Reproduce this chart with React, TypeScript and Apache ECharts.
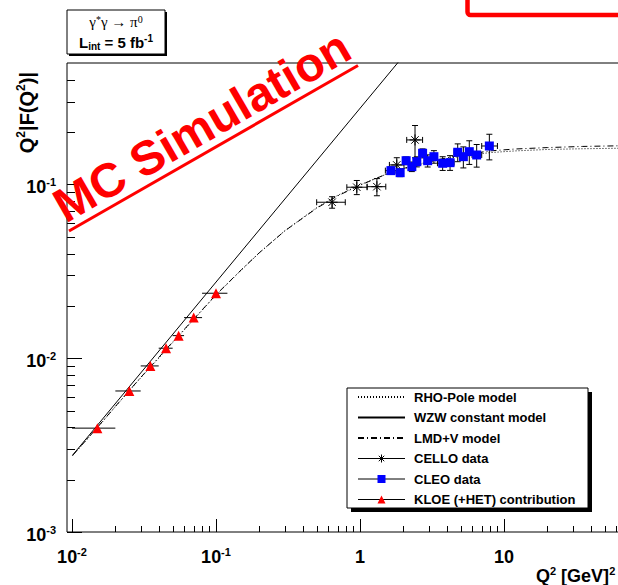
import React, { useEffect, useRef } from "react";
import * as echarts from "echarts";

const SANS = '"Liberation Sans", Arial, Helvetica, sans-serif';
const SERIF = '"Liberation Serif", "DejaVu Serif", serif';

// axis ranges
const X_MIN = 0.00923;
const X_MAX = 92.3;
const Y_MIN = 0.001;
const Y_MAX = 0.5;

// tick marks
const xMajorTicks = [0.01, 0.1, 1, 10];
const yMajorTicks = [0.001, 0.01, 0.1];
const minorSteps = [2, 3, 4, 5, 6, 7, 8, 9];
const xDecades = [-2, -1, 0, 1];
const yDecades = [-3, -2, -1];

// model curves
const modelQ2 = [0.0101, 0.015, 0.02, 0.03, 0.04, 0.05, 0.07, 0.1, 0.15, 0.2, 0.3, 0.5, 0.7, 1.0, 1.5, 2.0, 3.0, 5.0, 8.0, 12, 20, 35, 60, 92];
const lmdvValues = [0.00276, 0.004, 0.00528, 0.00775, 0.0101, 0.0124, 0.0168, 0.0232, 0.0323, 0.0405, 0.054, 0.073, 0.086, 0.099, 0.114, 0.1235, 0.1355, 0.1475, 0.156, 0.16, 0.163, 0.1655, 0.1668, 0.1675];
const rhoPoleValues = [0.00275, 0.00398, 0.00526, 0.00772, 0.01, 0.0123, 0.0167, 0.0231, 0.0322, 0.0404, 0.0541, 0.0735, 0.0866, 0.0995, 0.114, 0.123, 0.1345, 0.1455, 0.1525, 0.156, 0.159, 0.1605, 0.1615, 0.162];
const wzwQ2 = [0.0101, 1.9];
const wzwValues = [0.00277, 0.521];

// CELLO data
const celloQ2 = [0.64, 0.95, 1.31, 1.8, 2.41];
const celloQ2Lo = [0.5, 0.81, 1.12, 1.6, 2.11];
const celloQ2Hi = [0.79, 1.12, 1.51, 2.02, 2.72];
const celloValues = [0.079, 0.0964, 0.0971, 0.1295, 0.1804];
const celloErrors = [0.006, 0.009, 0.011, 0.013, 0.038];

// CLEO data
const cleoQ2 = [1.64, 1.9, 2.09, 2.29, 2.48, 2.72, 2.95, 3.26, 3.75, 4.22, 4.77, 5.22, 5.74, 6.46, 7.91];
const cleoQ2Lo = [1.5, 1.8, 2.0, 2.2, 2.4, 2.6, 2.85, 3.1, 3.45, 4.0, 4.5, 5.0, 5.5, 6.0, 7.0];
const cleoQ2Hi = [1.8, 2.0, 2.2, 2.4, 2.6, 2.85, 3.1, 3.45, 4.0, 4.5, 5.0, 5.5, 6.0, 7.0, 9.0];
const cleoValues = [0.1201, 0.1169, 0.137, 0.1266, 0.1352, 0.1512, 0.137, 0.1445, 0.1324, 0.1335, 0.1532, 0.1445, 0.1544, 0.1478, 0.1665];
const cleoErrors = [0.006, 0.006, 0.007, 0.008, 0.009, 0.009, 0.011, 0.012, 0.012, 0.013, 0.018, 0.02, 0.024, 0.022, 0.028];

// KLOE (+HET) projection
const kloeQ2 = [0.015, 0.025, 0.035, 0.045, 0.055, 0.07, 0.1];
const kloeQ2Lo = [0.01, 0.02, 0.03, 0.04, 0.05, 0.06, 0.08];
const kloeQ2Hi = [0.02, 0.03, 0.04, 0.05, 0.06, 0.08, 0.12];
const kloeValues = [0.00396, 0.00648, 0.00903, 0.01142, 0.01349, 0.01713, 0.02366];
const kloeErrors = [0, 0, 0, 0, 0, 0, 0];

const legendNames = [
  "RHO-Pole model",
  "WZW constant model",
  "LMD+V model",
  "CELLO data",
  "CLEO data",
  "KLOE (+HET) contribution",
];

const STAR = "path://M5,0L5,10M0,5L10,5M1.6,1.6L8.4,8.4M8.4,1.6L1.6,8.4";

const zip = (xs: number[], ys: number[]) => xs.map((x, i) => [x, ys[i]]);

const errData = (x: number[], y: number[], lo: number[], hi: number[], e: number[]) =>
  x.map((v, i) => [v, y[i], lo[i], hi[i], y[i] - e[i], y[i] + e[i]]);

const makeErrRender = (xCap: number, yCap: number) => (_p: any, api: any) => {
  const x = api.value(0), y = api.value(1);
  const c = api.coord([x, y]);
  const l = api.coord([api.value(2), y]);
  const r = api.coord([api.value(3), y]);
  const st = { stroke: "#000", lineWidth: 1 };
  const ch: any[] = [
    { type: "line", shape: { x1: l[0], y1: c[1], x2: r[0], y2: c[1] }, style: st },
  ];
  if (xCap > 0) {
    ch.push({ type: "line", shape: { x1: l[0], y1: c[1] - xCap, x2: l[0], y2: c[1] + xCap }, style: st });
    ch.push({ type: "line", shape: { x1: r[0], y1: c[1] - xCap, x2: r[0], y2: c[1] + xCap }, style: st });
  }
  const ylo = api.value(4), yhi = api.value(5);
  if (yhi > ylo) {
    const b = api.coord([x, ylo]);
    const t = api.coord([x, yhi]);
    ch.push({ type: "line", shape: { x1: c[0], y1: b[1], x2: c[0], y2: t[1] }, style: st });
    if (yCap > 0) {
      ch.push({ type: "line", shape: { x1: c[0] - yCap, y1: b[1], x2: c[0] + yCap, y2: b[1] }, style: st });
      ch.push({ type: "line", shape: { x1: c[0] - yCap, y1: t[1], x2: c[0] + yCap, y2: t[1] }, style: st });
    }
  }
  return { type: "group", children: ch };
};

const xMinorTicks: number[] = [];
xDecades.forEach((d) =>
  minorSteps.forEach((m) => {
    const v = m * Math.pow(10, d);
    if (v > X_MIN && v < X_MAX) xMinorTicks.push(v);
  })
);
const yMinorTicks: number[] = [];
yDecades.forEach((d) =>
  minorSteps.forEach((m) => {
    const v = m * Math.pow(10, d);
    if (v > Y_MIN && v < Y_MAX) yMinorTicks.push(v);
  })
);

const powLabel = (v: number) => {
  const e = Math.round(Math.log10(v));
  if (e === 0) return "{b|1}";
  if (e === 1) return "{b|10}";
  return "{b|10}{s|" + e + "}";
};

const tickRich = {
  b: { fontFamily: SANS, fontWeight: "bold", fontSize: 18, lineHeight: 22, color: "#000" },
  s: { fontFamily: SANS, fontWeight: "bold", fontSize: 11, lineHeight: 11, color: "#000", verticalAlign: "top" },
};

const dataLegendLine = { color: "#000", width: 1, opacity: 1, type: "solid" };

const option: any = {
  animation: false,
  backgroundColor: "#fff",
  grid: {
    left: 67,
    top: 63,
    width: 576,
    height: 469,
    show: true,
    borderColor: "#000",
    borderWidth: 1,
    backgroundColor: "transparent",
    containLabel: false,
    outerBoundsMode: "none",
  },
  xAxis: {
    type: "log",
    logBase: 10,
    min: X_MIN,
    max: X_MAX,
    axisLine: { show: false },
    axisTick: { show: false },
    splitLine: { show: false },
    axisLabel: {
      showMinLabel: false,
      showMaxLabel: false,
      margin: 14,
      formatter: powLabel,
      rich: tickRich,
    },
  },
  yAxis: {
    type: "log",
    logBase: 10,
    min: Y_MIN,
    max: Y_MAX,
    axisLine: { show: false },
    axisTick: { show: false },
    splitLine: { show: false },
    axisLabel: {
      showMinLabel: true,
      showMaxLabel: false,
      margin: 11,
      padding: [6, 0, 0, 0],
      formatter: powLabel,
      rich: tickRich,
    },
  },
  legend: {
    orient: "vertical",
    left: 357,
    top: 390,
    padding: 0,
    itemWidth: 47,
    itemHeight: 10,
    itemGap: 6.5,
    selectedMode: false,
    textStyle: {
      color: "#000",
      fontFamily: SANS,
      fontWeight: "bold",
      fontSize: 13,
      lineHeight: 14,
      padding: [0, 0, 0, 4],
    },
    data: [
      { name: legendNames[0], itemStyle: { opacity: 0 } },
      { name: legendNames[1], itemStyle: { opacity: 0 } },
      { name: legendNames[2], itemStyle: { opacity: 0 } },
      { name: legendNames[3], lineStyle: dataLegendLine, itemStyle: { borderWidth: 1, borderColor: "#000", color: "rgba(0,0,0,0)" } },
      { name: legendNames[4], lineStyle: dataLegendLine },
      { name: legendNames[5], lineStyle: dataLegendLine },
    ],
  },
  graphic: [
    // top-left label box
    { type: "rect", z: 5, shape: { x: 69, y: 12, width: 98, height: 44 }, style: { fill: "#000" } },
    { type: "rect", z: 5, shape: { x: 67, y: 10, width: 98, height: 44 }, style: { fill: "#fff", stroke: "#000", lineWidth: 1 } },
    {
      type: "text", z: 6, x: 116, y: 22,
      style: {
        text: "γ{s|*}γ → π{s|0}",
        fontFamily: SERIF, fontSize: 15, fill: "#000", align: "center", verticalAlign: "middle",
        rich: { s: { fontFamily: SERIF, fontSize: 10, lineHeight: 10, verticalAlign: "top", fill: "#000" } },
      },
    },
    {
      type: "text", z: 6, x: 116, y: 42,
      style: {
        text: "L{sub|int} = 5 fb{s|-1}",
        fontFamily: SANS, fontWeight: "bold", fontSize: 15, lineHeight: 18, fill: "#000", align: "center", verticalAlign: "middle",
        rich: {
          sub: { fontFamily: SANS, fontWeight: "bold", fontSize: 10, lineHeight: 10, verticalAlign: "bottom", fill: "#000" },
          s: { fontFamily: SANS, fontWeight: "bold", fontSize: 10, lineHeight: 10, verticalAlign: "top", fill: "#000" },
        },
      },
    },
    // legend box
    { type: "rect", z: 3, shape: { x: 351, y: 392, width: 241, height: 120 }, style: { fill: "#000" } },
    { type: "rect", z: 3, shape: { x: 347, y: 388, width: 241, height: 120 }, style: { fill: "#fff", stroke: "#000", lineWidth: 1 } },
    // red box at top right
    { type: "rect", z: 6, shape: { x: 467.5, y: -30, width: 250, height: 45, r: 3 }, style: { fill: "none", stroke: "#ff0000", lineWidth: 4.5 } },
    // watermark
    {
      type: "text", z: 10, x: 57.6, y: 209.5, rotation: Math.PI / 6,
      style: { text: "MC Simulation", fontFamily: SANS, fontWeight: "bold", fontSize: 48, fill: "#ff0000", align: "left", verticalAlign: "middle" },
    },
    { type: "line", z: 10, shape: { x1: 69, y1: 231, x2: 358, y2: 65.5 }, style: { stroke: "#ff0000", lineWidth: 3 } },
    // axis titles
    {
      type: "text", z: 6, x: 27, y: 72, rotation: Math.PI / 2,
      style: {
        text: "Q{s|2}|F(Q{s|2})|",
        fontFamily: SANS, fontWeight: "bold", fontSize: 20, lineHeight: 24, fill: "#000", align: "right", verticalAlign: "middle",
        rich: { s: { fontFamily: SANS, fontWeight: "bold", fontSize: 12, lineHeight: 12, verticalAlign: "top", fill: "#000" } },
      },
    },
    {
      type: "text", z: 6, x: 536, y: 576,
      style: {
        text: "Q{s|2} [GeV]{s|2}",
        fontFamily: SANS, fontWeight: "bold", fontSize: 18, lineHeight: 22, fill: "#000", align: "left", verticalAlign: "middle",
        rich: { s: { fontFamily: SANS, fontWeight: "bold", fontSize: 11, lineHeight: 11, verticalAlign: "top", fill: "#000" } },
      },
    },
  ],
  series: [
    {
      name: legendNames[0], type: "line", z: 2, symbol: "none",
      data: zip(modelQ2, rhoPoleValues),
      lineStyle: { color: "#000", width: 1, type: [1, 2] },
    },
    {
      name: legendNames[1], type: "line", z: 2, symbol: "none",
      data: zip(wzwQ2, wzwValues),
      lineStyle: { color: "#000", width: 1, type: "solid" },
    },
    {
      name: legendNames[2], type: "line", z: 2, symbol: "none",
      data: zip(modelQ2, lmdvValues),
      lineStyle: { color: "#000", width: 1, type: [6, 3, 1, 3] },
    },
    {
      name: "CELLO errors", type: "custom", z: 3, silent: true,
      data: errData(celloQ2, celloValues, celloQ2Lo, celloQ2Hi, celloErrors),
      renderItem: makeErrRender(3, 3),
    },
    {
      name: "CLEO errors", type: "custom", z: 3, silent: true,
      data: errData(cleoQ2, cleoValues, cleoQ2Lo, cleoQ2Hi, cleoErrors),
      renderItem: makeErrRender(3, 3),
    },
    {
      name: "KLOE errors", type: "custom", z: 3, silent: true,
      data: errData(kloeQ2, kloeValues, kloeQ2Lo, kloeQ2Hi, kloeErrors),
      renderItem: makeErrRender(0, 0),
    },
    {
      name: legendNames[3], type: "line", z: 4, symbol: STAR, symbolSize: 11,
      data: zip(celloQ2, celloValues),
      lineStyle: { color: "#000", opacity: 0 },
      itemStyle: { color: "rgba(0,0,0,0)", borderColor: "#000", borderWidth: 1 },
    },
    {
      name: legendNames[4], type: "line", z: 4, symbol: "rect", symbolSize: 9,
      data: zip(cleoQ2, cleoValues),
      lineStyle: { color: "#0000ff", opacity: 0 },
      itemStyle: { color: "#0000ff" },
    },
    {
      name: legendNames[5], type: "line", z: 4, symbol: "triangle", symbolSize: 10,
      data: zip(kloeQ2, kloeValues),
      lineStyle: { color: "#ff0000", opacity: 0 },
      itemStyle: { color: "#ff0000" },
    },
    {
      name: "x ticks", type: "custom", z: 6, silent: true,
      data: [...xMajorTicks.map((v) => [v, Y_MIN, 13]), ...xMinorTicks.map((v) => [v, Y_MIN, 6])],
      renderItem: (_p: any, api: any) => {
        const c = api.coord([api.value(0), api.value(1)]);
        const x = Math.round(c[0]) + 0.5;
        return { type: "line", shape: { x1: x, y1: c[1], x2: x, y2: c[1] - api.value(2) }, style: { stroke: "#000", lineWidth: 1 } };
      },
    },
    {
      name: "y ticks", type: "custom", z: 6, silent: true,
      data: [...yMajorTicks.map((v) => [X_MIN, v, 15]), ...yMinorTicks.map((v) => [X_MIN, v, 8])],
      renderItem: (_p: any, api: any) => {
        const c = api.coord([api.value(0), api.value(1)]);
        const y = Math.round(c[1]) + 0.5;
        return { type: "line", shape: { x1: c[0], y1: y, x2: c[0] + api.value(2), y2: y }, style: { stroke: "#000", lineWidth: 1 } };
      },
    },
  ],
};

export default function App() {
  const ref = useRef<HTMLDivElement>(null);
  useEffect(() => {
    if (!ref.current) return;
    const chart = echarts.init(ref.current, undefined, { renderer: "svg" });
    chart.setOption(option);
    return () => chart.dispose();
  }, []);
  return (
    <div style={{ position: "fixed", left: 0, top: 0, width: 618, height: 585, overflow: "hidden", background: "#fff" }}>
      <div ref={ref} style={{ width: 700, height: 585 }} />
    </div>
  );
}
